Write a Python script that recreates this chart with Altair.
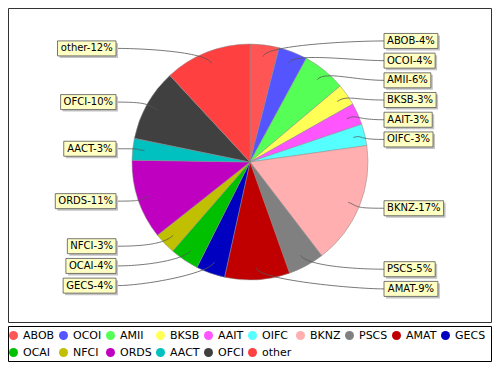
import math
import altair as alt
import pandas as pd

# ---- data ----
categories = ["ABOB", "OCOI", "AMII", "BKSB", "AAIT", "OIFC", "BKNZ", "PSCS",
              "AMAT", "GECS", "OCAI", "NFCI", "ORDS", "AACT", "OFCI", "other"]
values = [4, 4, 6, 3, 3, 3, 17, 5, 9, 4, 4, 3, 11, 3, 10, 12]
palette = ["#FF5555", "#5555FF", "#55FF55", "#FFFF55", "#FF55FF", "#55FFFF",
           "#FFAFAF", "#808080", "#C00000", "#0000C0", "#00C000", "#C0C000",
           "#C000C0", "#00C0C0", "#404040", "#FF4040"]

# ---- layout ----
W, H = 484, 354
CX, CY, R = 242, 154, 118
LABEL_R = 122
GAP = 19.7
EDGE = 134
FONT = "DejaVu Sans"

# DejaVu Sans advance widths (units / 2048)
ADV = {"A": 1401, "B": 1405, "C": 1430, "D": 1577, "E": 1294, "F": 1178, "G": 1587,
       "H": 1540, "I": 604, "K": 1343, "M": 1767, "N": 1532, "O": 1612, "P": 1235,
       "R": 1423, "S": 1300, "T": 1251, "Z": 1403, "o": 1253, "t": 803, "h": 1298,
       "e": 1260, "r": 842, "-": 739, "%": 1946}


def text_w(s, size=10):
    return sum(ADV.get(c, 1303) for c in s) / 2048 * size


pie_df = pd.DataFrame({"category": categories, "value": values,
                       "idx": list(range(len(categories)))})

total = sum(values)
rows = []
cum = 0
for i, (c, v) in enumerate(zip(categories, values)):
    mid = (cum + v / 2) / total * 2 * math.pi
    cum += v
    s, co = math.sin(mid), math.cos(mid)
    rows.append({"category": c, "label": f"{c}-{v}%", "mid": mid,
                 "ax": CX + 0.9 * R * s, "ay": CY - 0.9 * R * co,
                 "cx1": CX + 1.0 * R * s, "cy1": CY - 1.0 * R * co,
                 "side": "R" if s > 0 else "L", "raw": CY - co * LABEL_R})

for side in ("R", "L"):
    grp = sorted([r for r in rows if r["side"] == side], key=lambda r: r["raw"])
    prev = -1e9
    for r in grp:
        r["ly"] = max(r["raw"], prev + GAP)
        prev = r["ly"]

box_rows, line_rows = [], []
for r in rows:
    tw = text_w(r["label"])
    if r["side"] == "R":
        ex = CX + EDGE
        x1, x2 = ex, ex + tw + 6
        c2x = ex - 30
    else:
        ex = CX - EDGE
        x1, x2 = ex - tw - 6, ex
        c2x = ex + 30
    box_rows.append({"category": r["category"], "label": r["label"],
                     "x1": x1, "x2": x2, "y1": r["ly"] - 7.5, "y2": r["ly"] + 7.5,
                     "sx1": x1 + 2, "sx2": x2 + 2, "sy1": r["ly"] - 5.5, "sy2": r["ly"] + 9.5,
                     "tx": (x1 + x2) / 2, "ty": r["ly"]})
    P = [(r["ax"], r["ay"]), (r["cx1"], r["cy1"]), (c2x, r["ly"]), (ex, r["ly"])]
    for k in range(31):
        t = k / 30
        b = [(1 - t) ** 3, 3 * (1 - t) ** 2 * t, 3 * (1 - t) * t ** 2, t ** 3]
        line_rows.append({"category": r["category"], "t": t,
                          "px": sum(b[j] * P[j][0] for j in range(4)),
                          "py": sum(b[j] * P[j][1] for j in range(4))})

box_df = pd.DataFrame(box_rows)
line_df = pd.DataFrame(line_rows)

xs = alt.Scale(domain=[0, W], nice=False, zero=False)
ys = alt.Scale(domain=[0, H], nice=False, zero=False, reverse=True)

one = pd.DataFrame({"v": [1]})

plot_border = alt.Chart(one).mark_rect(fill="white", stroke="#333333", strokeWidth=1).encode(
    x=alt.value(0.5), x2=alt.value(W - 0.5), y=alt.value(0.5), y2=alt.value(314.5))

legend_border = alt.Chart(one).mark_rect(fill="white", stroke="#000000", strokeWidth=1).encode(
    x=alt.value(0.5), x2=alt.value(W - 0.5), y=alt.value(318.5), y2=alt.value(H - 0.5))

shadow = alt.Chart(one).mark_arc(outerRadius=R, color="#8c8c8c").encode(
    theta=alt.Theta("v:Q"), x=alt.value(CX + 4), y=alt.value(CY + 4))

pie = alt.Chart(pie_df).mark_arc(outerRadius=R, stroke="#8a8a8a", strokeWidth=0.5).encode(
    theta=alt.Theta("value:Q", stack=True),
    order=alt.Order("idx:Q", sort="ascending"),
    color=alt.Color("category:N", scale=alt.Scale(domain=categories, range=palette),
                    legend=alt.Legend(title=None, orient="none", legendX=0, legendY=322,
                                      padding=0, offset=0,
                                      columns=10, gridAlign="none", direction="horizontal",
                                      symbolType="circle", symbolSize=81,
                                      symbolStrokeWidth=0, labelFont=FONT,
                                      labelFontSize=11, labelColor="black",
                                      labelOffset=4, columnPadding=3, rowPadding=5,
                                      labelLimit=0)),
    x=alt.value(CX), y=alt.value(CY))

lines = alt.Chart(line_df).mark_line(color="#555555", strokeWidth=0.8).encode(
    x=alt.X("px:Q", scale=xs, axis=None),
    y=alt.Y("py:Q", scale=ys, axis=None),
    detail="category:N",
    order=alt.Order("t:Q"))

box_shadow = alt.Chart(box_df).mark_rect(fill="#c4c4c4").encode(
    x=alt.X("sx1:Q", scale=xs, axis=None), x2="sx2:Q",
    y=alt.Y("sy1:Q", scale=ys, axis=None), y2="sy2:Q")

boxes = alt.Chart(box_df).mark_rect(fill="#FFFFC4", stroke="#555555", strokeWidth=0.8).encode(
    x=alt.X("x1:Q", scale=xs, axis=None), x2="x2:Q",
    y=alt.Y("y1:Q", scale=ys, axis=None), y2="y2:Q")

texts = alt.Chart(box_df).mark_text(font=FONT, fontSize=10, color="black",
                                    align="center", baseline="middle").encode(
    x=alt.X("tx:Q", scale=xs, axis=None),
    y=alt.Y("ty:Q", scale=ys, axis=None),
    text="label:N")

chart = alt.layer(plot_border, legend_border, shadow, pie, lines, box_shadow, boxes, texts).properties(
    width=W, height=H, padding=0, autosize=alt.AutoSizeParams(type="none")
).configure_view(stroke=None)

chart.save("out.html", embed_options={"renderer": "svg", "actions": False})
